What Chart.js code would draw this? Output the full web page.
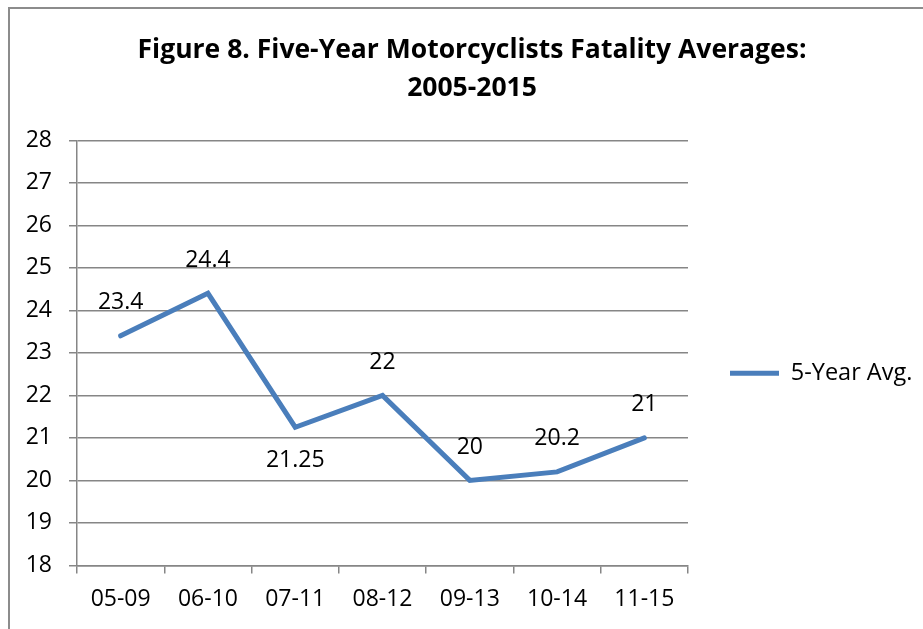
<!DOCTYPE html>
<html>
<head>
<meta charset="utf-8">
<script src="https://cdn.jsdelivr.net/npm/chart.js@4/dist/chart.umd.min.js"></script>
<style>
	html, body { margin: 0; padding: 0; background: #fff; overflow: hidden; }
	#frame {
		position: absolute;
		left: 8px;
		top: 7px;
		width: 924px;
		height: 640px;
		border-left: 2px solid #8c8c8c;
		border-top: 2px solid #8c8c8c;
	}
</style>
</head>
<body>
<div id="frame"><canvas id="fatalityChart" width="924" height="640"></canvas></div>
<script>
const periods = ['05-09', '06-10', '07-11', '08-12', '09-13', '10-14', '11-15'];
const avgValues = [23.4, 24.4, 21.25, 22, 20, 20.2, 21];
const yTicks = { min: 18, max: 28, step: 1 };
const seriesName = '5-Year Avg.';

(function () {
	const font = 'Open Sans';
	const textSize = 23;

	const pointLabels = {
		id: 'pointLabels',
		afterDatasetsDraw(chart, args, opts) {
			const ctx = chart.ctx;
			const meta = chart.getDatasetMeta(0);
			ctx.save();
			ctx.font = `${opts.size}px "${font}"`;
			ctx.fillStyle = '#000';
			ctx.textAlign = 'center';
			ctx.textBaseline = 'middle';
			meta.data.forEach(function (pt, i) {
				const dy = opts.placement[i] === 'below' ? opts.offset : -opts.offset;
				ctx.fillText(String(avgValues[i]), pt.x, pt.y + dy);
			});
			ctx.restore();
		},
	};

	const config = {
		type: 'line',
		data: {
			labels: periods,
			datasets: [
				{
					label: seriesName,
					data: avgValues,
					borderColor: '#4a7ebb',
					backgroundColor: '#4a7ebb',
					borderWidth: 5,
					borderCapStyle: 'round',
					borderJoinStyle: 'miter',
					pointRadius: 0,
					pointHoverRadius: 0,
					tension: 0,
					fill: false,
				},
			],
		},
		options: {
			responsive: false,
			animation: false,
			layout: {
				padding: { left: 0, right: 0, top: 0, bottom: 24 },
			},
			plugins: {
				title: {
					display: true,
					text: ['Figure 8. Five-Year Motorcyclists Fatality Averages:', '2005-2015'],
					color: '#000',
					font: { family: font, size: 26.5, weight: 'bold', lineHeight: 1.42 },
					padding: { top: 23, bottom: 33 },
				},
				legend: {
					position: 'right',
					fullSize: false,
					title: {
						display: true,
						text: ' ',
						font: { size: 10, lineHeight: 1.2 },
						padding: { top: 0, bottom: 29 },
					},
					labels: {
						usePointStyle: true,
						pointStyle: 'line',
						pointStyleWidth: 49,
						color: '#000',
						font: { family: font, size: 23.5 },
						padding: 42,
					},
				},
				tooltip: { enabled: false },
				pointLabels: {
					size: textSize,
					offset: 33,
					placement: ['above', 'above', 'below', 'above', 'above', 'above', 'above'],
				},
			},
			scales: {
				x: {
					offset: true,
					grid: {
						display: true,
						drawOnChartArea: false,
						drawTicks: true,
						offset: true,
						tickLength: 8,
						color: '#868686',
						lineWidth: 1.5,
					},
					border: { display: true, color: '#868686', width: 1.5 },
					ticks: {
						color: '#000',
						font: { family: font, size: textSize },
						padding: 12,
						maxRotation: 0,
					},
				},
				y: {
					min: yTicks.min,
					max: yTicks.max,
					afterFit: function (scale) {
						scale.width = 67;
					},
					grid: {
						color: '#868686',
						lineWidth: 1.5,
						tickLength: 8,
					},
					border: { display: true, color: '#868686', width: 1.5 },
					ticks: {
						stepSize: yTicks.step,
						color: '#000',
						font: { family: font, size: textSize },
						padding: 17,
					},
				},
			},
		},
		plugins: [pointLabels],
	};
	const chart = new Chart(document.getElementById('fatalityChart'), config);

	// legend box keeps the plot right edge where the original has it
	const legendFit = chart.legend.fit;
	chart.legend.fit = function () {
		legendFit.call(this);
		this.width = 246;
	};
	chart.update();
})();
</script>
</body>
</html>
